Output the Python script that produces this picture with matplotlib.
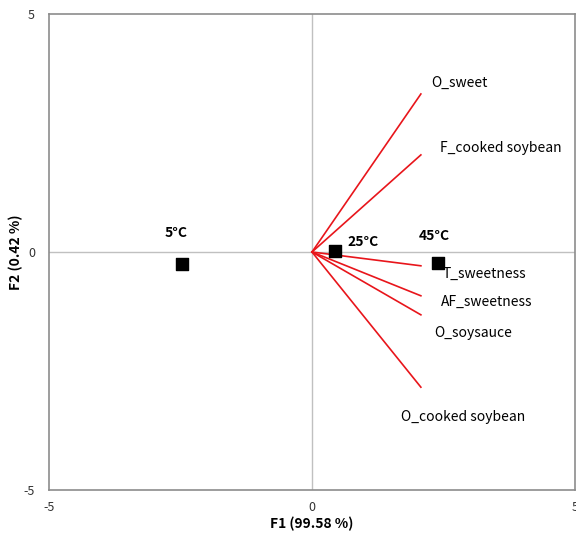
import matplotlib
matplotlib.use("Agg")
import matplotlib.pyplot as plt

plt.rcParams["font.family"] = ["Noto Sans CJK KR", "DejaVu Sans"]
plt.rcParams["axes.unicode_minus"] = False

# observations (temperatures)
obs_names = ["5°C", "25°C", "45°C"]
obs_f1 = [-2.47, 0.44, 2.40]
obs_f2 = [-0.25, 0.02, -0.23]

# variables (vectors from origin)
var_names = ["O_sweet", "F_cooked soybean", "T_sweetness", "AF_sweetness",
             "O_soysauce", "O_cooked soybean"]
var_f1 = [2.07, 2.07, 2.07, 2.07, 2.07, 2.07]
var_f2 = [3.32, 2.04, -0.29, -0.92, -1.32, -2.84]

# label anchor positions (data coords)
var_lab_xy = [(2.26, 3.55), (2.43, 2.18), (2.49, -0.46), (2.45, -1.05),
              (2.32, -1.70), (1.69, -3.47)]
obs_lab_xy = [(-2.59, 0.40, "center"), (0.67, 0.21, "left"), (2.02, 0.34, "left")]

fig = plt.figure(figsize=(5.76, 5.38), dpi=100)
ax = fig.add_axes([49 / 576, 48 / 538, 526 / 576, 476 / 538])

ax.axhline(0, color="#c0c0c0", lw=1, zorder=1)
ax.axvline(0, color="#c0c0c0", lw=1, zorder=1)

for x, y in zip(var_f1, var_f2):
    ax.plot([0, x], [0, y], color="#e8151b", lw=1.2, zorder=2)
for name, (lx, ly) in zip(var_names, var_lab_xy):
    ax.text(lx, ly, name, fontsize=10, ha="left", va="center", color="black")

ax.scatter(obs_f1, obs_f2, marker="s", s=80, color="black", zorder=3)
for name, (lx, ly, ha) in zip(obs_names, obs_lab_xy):
    ax.text(lx, ly, name, fontsize=10, fontweight="bold", ha=ha, va="center")

ax.set_xlim(-5, 5)
ax.set_ylim(-5, 5)
ax.set_xticks([-5, 0, 5])
ax.set_yticks([-5, 0, 5])
ax.tick_params(axis="x", length=0, labelsize=9, colors="#333333", pad=8)
ax.tick_params(axis="y", length=0, labelsize=9, colors="#333333", pad=10)
for s in ax.spines.values():
    s.set_color("#8c8c8c")
    s.set_linewidth(1.2)

ax.set_xlabel("F1 (99.58 %)", fontsize=10, fontweight="bold", labelpad=2)
ax.set_ylabel("F2 (0.42 %)", fontsize=10, fontweight="bold", labelpad=0)
ax.yaxis.set_label_coords(-0.05, 0.5)

fig.savefig("out.png", dpi=100)
